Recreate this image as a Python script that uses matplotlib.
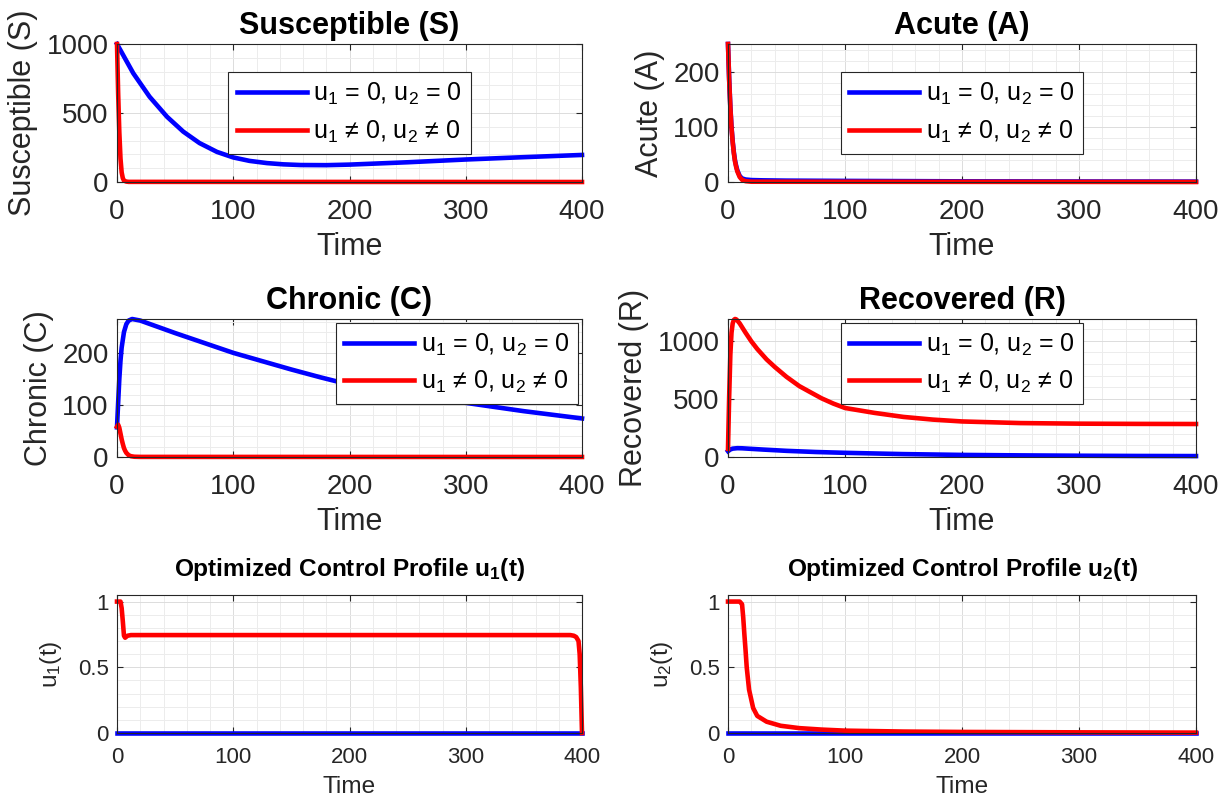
import matplotlib
matplotlib.use("Agg")
import matplotlib.pyplot as plt
from matplotlib.ticker import MultipleLocator, FormatStrFormatter

plt.rcParams['font.family'] = 'Liberation Sans'
plt.rcParams['mathtext.fontset'] = 'custom'
plt.rcParams['mathtext.rm'] = 'Liberation Sans'
plt.rcParams['mathtext.it'] = 'Liberation Sans:italic'
plt.rcParams['mathtext.bf'] = 'Liberation Sans:bold'

# --- Data ---
# Susceptible
t_S_base = [0, 14, 28, 43, 57, 71, 86, 100, 114, 129, 143, 158, 180, 200, 250, 300, 350, 400]
S_base = [1000, 788, 618, 473, 365, 282, 218, 178, 153, 137, 128, 123, 122, 126, 143, 163, 180, 196]
t_S_ctrl = [0, 1, 2, 3, 4, 5, 6, 8, 10, 400]
S_ctrl = [1000, 640, 360, 170, 70, 28, 10, 3, 1, 0]

# Acute
t_A_base = [0, 1, 2, 3, 4, 5, 6, 7, 8, 10, 12, 15, 20, 30, 50, 100, 200, 300, 400]
A_base = [250, 186, 137, 100, 74, 54, 39, 29, 21, 11, 6.5, 4.5, 3.5, 3, 2.5, 2, 1.2, 0.9, 0.7]
t_A_ctrl = [0, 1, 2, 3, 4, 5, 6, 7, 8, 10, 12, 15, 20, 400]
A_ctrl = [250, 185, 135, 98, 72, 52, 37, 27, 19, 9, 4, 1.5, 0.5, 0]

# Chronic
t_C_base = [0, 1, 2, 3, 4, 6, 8, 10, 13, 20, 50, 100, 125, 150, 175, 200, 250, 300, 350, 400]
C_base = [57, 105, 150, 185, 210, 240, 255, 262, 265, 262, 238, 200, 184, 168, 153, 139, 120, 104, 88, 74]
t_C_ctrl = [0, 1, 2, 3, 4, 5, 6, 7, 8, 10, 12, 15, 20, 400]
C_ctrl = [58, 62, 56, 45, 34, 25, 17, 12, 8, 3.5, 1.5, 0.5, 0.2, 0]

# Recovered
t_R_base = [0, 2, 4, 8, 12, 20, 30, 50, 75, 100, 150, 200, 250, 300, 350, 400]
R_base = [50, 65, 72, 76, 75, 70, 64, 53, 43, 36, 25, 18, 14, 11, 9, 8]
t_R_ctrl = [0, 1, 2, 3, 4, 5, 6, 7, 8, 10, 15, 20, 25, 33, 40, 50, 61, 70, 80, 90, 100,
            125, 150, 175, 200, 250, 300, 350, 400]
R_ctrl = [70, 520, 880, 1070, 1150, 1180, 1188, 1185, 1175, 1150, 1070, 995, 930, 840, 775, 690, 610,
          560, 505, 460, 422, 380, 345, 322, 306, 292, 287, 285, 284]

# Controls
t_u1_base = [0, 400]
u1_base = [0, 0]
t_u1_ctrl = [0, 3, 4, 5, 6, 7, 9, 12, 390, 393, 395, 397, 398, 399, 400]
u1_ctrl = [1, 1, 0.95, 0.85, 0.74, 0.725, 0.74, 0.745, 0.745, 0.74, 0.73, 0.7, 0.6, 0.35, 0]

t_u2_base = [0, 400]
u2_base = [0, 0]
t_u2_ctrl = [0, 10, 12, 13, 14, 15, 16, 18, 21.5, 25, 33, 45, 61, 80, 100, 150, 200, 300, 400]
u2_ctrl = [1, 1, 0.98, 0.88, 0.75, 0.63, 0.5, 0.33, 0.19, 0.13, 0.086, 0.055, 0.037, 0.026, 0.018,
           0.011, 0.008, 0.005, 0.003]

LABEL_BASE = 'u$_1$ = 0, u$_2$ = 0'
LABEL_CTRL = 'u$_1$ \u2260 0, u$_2$ \u2260 0'

DARK = '#262626'

fig = plt.figure(figsize=(12.31, 7.98), dpi=100)

col_x = [117 / 1231, 728 / 1231]
col_w = [465 / 1231, 468 / 1231]
row_y = [1 - 182 / 798, 1 - 457 / 798, 1 - 733 / 798]
row_h = 138 / 798


def make_axes(row, col):
    return fig.add_axes([col_x[col], row_y[row], col_w[col], row_h])


def style_axes(ax, fs, ymajor, yminor, xpad):
    ax.set_xlim(0, 400)
    ax.xaxis.set_major_locator(MultipleLocator(100))
    ax.xaxis.set_minor_locator(MultipleLocator(20))
    ax.yaxis.set_major_locator(MultipleLocator(ymajor))
    ax.yaxis.set_minor_locator(MultipleLocator(yminor))
    ax.grid(True, which='major', color='#dcdcdc', lw=0.7)
    ax.grid(True, which='minor', color='#ececec', lw=0.7)
    ax.set_axisbelow(True)
    ax.tick_params(which='major', direction='in', length=4, width=0.8, color=DARK,
                   top=True, right=True, labelsize=fs, labelcolor=DARK)
    ax.tick_params(which='minor', length=0, top=True, right=True)
    ax.tick_params(axis='x', pad=xpad)
    ax.tick_params(axis='y', pad=6)
    for sp in ax.spines.values():
        sp.set_color(DARK)
        sp.set_linewidth(0.8)


def add_legend(ax, loc):
    leg = ax.legend(loc=loc, fontsize=18, handlelength=2.8, handletextpad=0.25,
                    borderpad=0.35, labelspacing=0.45, borderaxespad=0.15,
                    fancybox=False, framealpha=1, edgecolor=DARK)
    leg.get_frame().set_linewidth(0.8)


state_panels = [
    (0, 0, t_S_base, S_base, t_S_ctrl, S_ctrl, 'Susceptible (S)', 500, 100, 'center'),
    (0, 1, t_A_base, A_base, t_A_ctrl, A_ctrl, 'Acute (A)', 100, 20, 'center'),
    (1, 0, t_C_base, C_base, t_C_ctrl, C_ctrl, 'Chronic (C)', 100, 20, 'upper right'),
    (1, 1, t_R_base, R_base, t_R_ctrl, R_ctrl, 'Recovered (R)', 500, 100, 'upper center'),
]

for row, col, tb, yb, tc, yc, name, ymaj, ymin, loc in state_panels:
    ax = make_axes(row, col)
    ax.plot(tb, yb, color='#0000ff', lw=3.3, label=LABEL_BASE, clip_on=False)
    ax.plot(tc, yc, color='#ff0000', lw=3.3, label=LABEL_CTRL, clip_on=False)
    style_axes(ax, 20, ymaj, ymin, 12)
    ax.set_ylim(0, max(max(yb), max(yc)))
    ax.set_title(name, fontsize=22, fontweight='bold', pad=7)
    ax.set_ylabel(name, fontsize=22, color=DARK, labelpad=6)
    ax.set_xlabel('Time', fontsize=22, color=DARK, labelpad=5)
    add_legend(ax, loc)

control_panels = [
    (0, t_u1_base, u1_base, t_u1_ctrl, u1_ctrl, '1'),
    (1, t_u2_base, u2_base, t_u2_ctrl, u2_ctrl, '2'),
]

for col, tb, yb, tc, yc, k in control_panels:
    ax = make_axes(2, col)
    ax.plot(tb, yb, color='#0000ff', lw=3.3, clip_on=False)
    ax.plot(tc, yc, color='#ff0000', lw=3.3, clip_on=False)
    style_axes(ax, 16, 0.5, 0.1, 10)
    ax.yaxis.set_major_formatter(FormatStrFormatter('%g'))
    ax.set_ylim(0, 1.05)
    ax.set_title('Optimized Control Profile u$_{\\mathbf{%s}}$(t)' % k, fontsize=17.6,
                 fontweight='bold', pad=14)
    ax.set_ylabel('u$_%s$(t)' % k, fontsize=17.6, color=DARK, labelpad=10)
    ax.set_xlabel('Time', fontsize=17.6, color=DARK, labelpad=6)

fig.savefig('out.png', dpi=100)
